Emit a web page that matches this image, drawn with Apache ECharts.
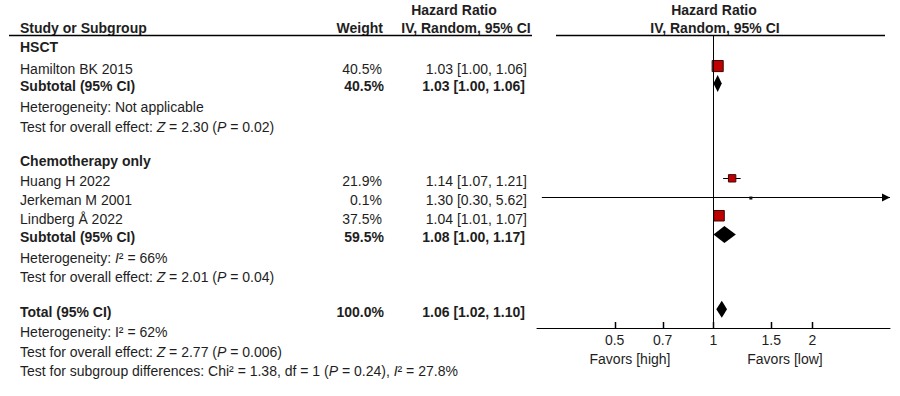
<!DOCTYPE html>
<html><head><meta charset="utf-8">
<script src="https://cdn.jsdelivr.net/npm/echarts@6/dist/echarts.min.js"></script>
<style>html,body{margin:0;padding:0;background:#fff}#c{width:900px;height:396px}</style>
</head><body><div id="c"></div>
<script>
// ---- data ----
const studyNames = ['Hamilton BK 2015', 'Huang H 2022', 'Jerkeman M 2001', 'Lindberg Å 2022'];
const studyWeights = [40.5, 21.9, 0.1, 37.5];
const studyHR = [1.03, 1.14, 1.30, 1.04];
const studyLow = [1.00, 1.07, 0.30, 1.01];
const studyHigh = [1.06, 1.21, 5.62, 1.07];
const studyRows = [2, 8, 9, 10];

const pooledNames = ['Subtotal (95% CI)', 'Subtotal (95% CI)', 'Total (95% CI)'];
const pooledWeights = [40.5, 59.5, 100.0];
const pooledHR = [1.03, 1.08, 1.06];
const pooledLow = [1.00, 1.00, 1.02];
const pooledHigh = [1.06, 1.17, 1.10];
const pooledRows = [2.93, 11, 15];

const groupNames = ['HSCT', 'Chemotherapy only'];
const groupRows = [0.82, 6.9];

const noteTexts = [
  'Heterogeneity: Not applicable',
  'Test for overall effect: {i|Z} = 2.30 ({i|P} = 0.02)',
  'Heterogeneity: {i|I}² = 66%',
  'Test for overall effect: {i|Z} = 2.01 ({i|P} = 0.04)',
  'Heterogeneity: I² = 62%',
  'Test for overall effect: {i|Z} = 2.77 ({i|P} = 0.006)',
  'Test for subgroup differences: Chi² = 1.38, df = 1 ({i|P} = 0.24), {i|I}² = 27.8%'
];
const noteRows = [4.03, 5.1, 12.1, 13.1, 16.05, 17.12, 18.14];

const tickValues = [0.5, 0.7, 1, 1.5, 2];
const axisRange = [0.29, 3.45];
const rowRange = [0.34, 16];
const favorLabels = ['Favors [high]', 'Favors [low]'];
const headerTitles = ['Study or Subgroup', 'Weight', 'Hazard Ratio', 'IV, Random, 95% CI'];

// ---- chart ----
const FONT = '"Liberation Sans", Arial, sans-serif';
const TXT = '#1e1e1e';
const chart = echarts.init(document.getElementById('c'), null, {renderer: 'svg'});

function crisp(v) { return Math.round(v - 0.5) + 0.5; }

function renderStudy(params, api) {
  const hr = api.value(0), row = api.value(1), lo = api.value(2), hi = api.value(3), w = api.value(4);
  const c = api.coord([hr, row]);
  const y = crisp(c[1]);
  const pLo = api.coord([Math.max(lo, axisRange[0]), row]);
  const pHi = api.coord([Math.min(hi, axisRange[1]), row]);
  const children = [{
    type: 'line', shape: {x1: pLo[0], y1: y, x2: pHi[0], y2: y},
    style: {stroke: '#000', lineWidth: 1}
  }];
  if (hi > axisRange[1]) {
    children.push({type: 'polygon', shape: {points: [[pHi[0], y], [pHi[0] - 8, y - 4], [pHi[0] - 8, y + 4]]}, style: {fill: '#000'}});
  }
  if (lo < axisRange[0]) {
    children.push({type: 'polygon', shape: {points: [[pLo[0], y], [pLo[0] + 8, y - 4], [pLo[0] + 8, y + 4]]}, style: {fill: '#000'}});
  }
  const s = 3 + 0.2 * w;
  children.push({
    type: 'rect', shape: {x: c[0] - s / 2, y: c[1] - s / 2 + (w < 1 ? 1 : 0), width: s, height: s},
    style: {fill: w < 1 ? '#111' : '#C00000', stroke: '#3a0a0a', lineWidth: w < 1 ? 0 : 1}
  });
  return {type: 'group', children: children};
}

function renderDiamond(params, api) {
  const hr = api.value(0), row = api.value(1), lo = api.value(2), hi = api.value(3);
  const c = api.coord([hr, row]);
  const pLo = api.coord([lo, row]);
  const pHi = api.coord([hi, row]);
  const h = 8.5;
  return {
    type: 'polygon',
    shape: {points: [[pLo[0], c[1]], [c[0], c[1] - h], [pHi[0], c[1]], [c[0], c[1] + h]]},
    style: {fill: '#000'}
  };
}

const studyData = studyNames.map((n, i) => [studyHR[i], studyRows[i], studyLow[i], studyHigh[i], studyWeights[i]]);
const pooledData = pooledNames.map((n, i) => [pooledHR[i], pooledRows[i], pooledLow[i], pooledHigh[i], pooledWeights[i]]);

chart.setOption({
  animation: false,
  backgroundColor: '#fff',
  grid: {left: 537, right: 10, top: 35, bottom: 68},
  xAxis: {
    type: 'log', logBase: 10, min: axisRange[0], max: axisRange[1],
    axisLine: {show: true, lineStyle: {color: '#000', width: 1}},
    axisTick: {show: false},
    axisLabel: {show: true, customValues: tickValues, margin: 5, color: TXT, fontSize: 14, fontFamily: FONT,
      formatter: v => String(+(+v).toFixed(2))},
    splitLine: {show: false}, minorTick: {show: false}
  },
  yAxis: {type: 'value', inverse: true, min: rowRange[0], max: rowRange[1], show: false},
  series: [
    {
      type: 'custom', name: 'studies', renderItem: renderStudy, data: studyData,
      encode: {x: 0, y: 1}, z: 3,
      markLine: {
        silent: true, symbol: 'none', animation: false,
        label: {show: false},
        lineStyle: {color: '#000', width: 1, type: 'solid'},
        data: [{xAxis: 1}]
      }
    },
    {type: 'custom', name: 'pooled', renderItem: renderDiamond, data: pooledData, encode: {x: 0, y: 1}, z: 3}
  ]
});

// ---- text table ----
const yPix = r => chart.convertToPixel({yAxisIndex: 0}, r) + 3;
const xPix = v => chart.convertToPixel({xAxisIndex: 0}, v);
const COL_STUDY = 20, COL_WEIGHT = 383, COL_HR = 527;
function txt(text, x, y, align, bold) {
  return {
    type: 'text', silent: true,
    style: {
      text: text, x: x, y: y, align: align || 'left', verticalAlign: 'middle',
      fill: TXT, fontSize: 14, fontFamily: FONT, fontWeight: bold ? 'bold' : 'normal',
      rich: {i: {fontStyle: 'italic', fontSize: 14, fontFamily: FONT, fill: TXT}}
    }
  };
}
const fmtHR = (h, l, u) => h.toFixed(2) + ' [' + l.toFixed(2) + ', ' + u.toFixed(2) + ']';
const g = [];
// headers
g.push(txt(headerTitles[0], COL_STUDY, 28, 'left', true));
g.push(txt(headerTitles[1], COL_WEIGHT, 28, 'right', true));
g.push(txt(headerTitles[2], 454, 10, 'center', true));
g.push(txt(headerTitles[3], 466, 28, 'center', true));
g.push(txt(headerTitles[2], 714, 10, 'center', true));
g.push(txt(headerTitles[3], 715, 28, 'center', true));
g.push({type: 'line', silent: true, shape: {x1: 9, y1: 35.5, x2: 532, y2: 35.5}, style: {stroke: '#000', lineWidth: 1.5}});
g.push({type: 'line', silent: true, shape: {x1: 556, y1: 35.5, x2: 885, y2: 35.5}, style: {stroke: '#000', lineWidth: 1.5}});
// axis ticks
const axisY = chart.convertToPixel({yAxisIndex: 0}, rowRange[1]);
tickValues.forEach(v => {
  const x = Math.round(xPix(v)) + 0.5;
  g.push({type: 'rect', silent: true, z: 100, shape: {x: x - 0.75, y: axisY - 6, width: 1.5, height: 7}, style: {fill: '#000'}});
});
// groups
groupNames.forEach((n, i) => g.push(txt(n, COL_STUDY, yPix(groupRows[i]), 'left', true)));
// studies
studyNames.forEach((n, i) => {
  const y = yPix(studyRows[i]);
  g.push(txt(n, COL_STUDY, y, 'left', false));
  g.push(txt(studyWeights[i].toFixed(1) + '%', COL_WEIGHT - 1, y, 'right', false));
  g.push(txt(fmtHR(studyHR[i], studyLow[i], studyHigh[i]), COL_HR, y, 'right', false));
});
// pooled
pooledNames.forEach((n, i) => {
  const y = yPix(pooledRows[i]);
  g.push(txt(n, COL_STUDY, y, 'left', true));
  g.push(txt(pooledWeights[i].toFixed(1) + '%', COL_WEIGHT + 1, y, 'right', true));
  g.push(txt(fmtHR(pooledHR[i], pooledLow[i], pooledHigh[i]), COL_HR - 2, y, 'right', true));
});
// notes
noteTexts.forEach((t, i) => g.push(txt(t, COL_STUDY, yPix(noteRows[i]), 'left', false)));
// favours labels
g.push(txt(favorLabels[0], 630, 359, 'center', false));
g.push(txt(favorLabels[1], 785, 359, 'center', false));

chart.setOption({graphic: g});
</script>
</body></html>
